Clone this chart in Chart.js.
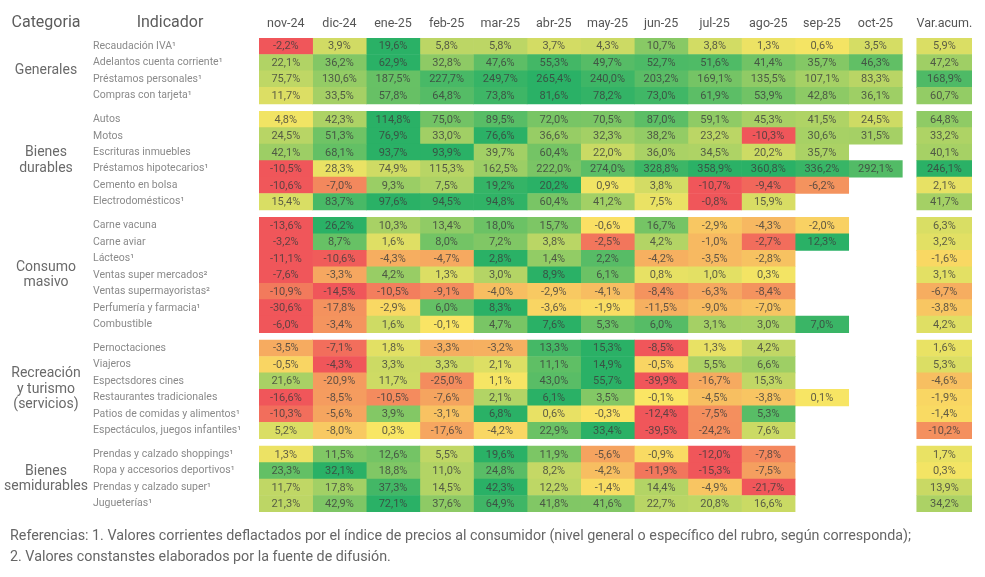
<!DOCTYPE html>
<html lang="es">

<head>
  <meta charset="UTF-8" />
  <title>Indicadores de actividad</title>
  <script src="https://cdn.jsdelivr.net/npm/chart.js@4.4.1/dist/chart.umd.min.js"></script>
  <style>
    html, body { margin: 0; padding: 0; background: #fff; }
    #wrap { position: relative; width: 985px; height: 577px; }
    #notes {
      position: absolute; left: 10px; top: 525px;
      font: 14.3px Roboto, "Liberation Sans", sans-serif;
      color: #666; line-height: 21px; white-space: nowrap;
    }
  </style>
</head>

<body>
  <div id="wrap">
    <canvas id="tabla" width="985" height="577"></canvas>
    <div id="notes">
      Referencias: 1. Valores corrientes deflactados por el índice de precios al consumidor (nivel general o específico del rubro, según corresponda);<br>
      2. Valores constanstes elaborados por la fuente de difusión.
    </div>
  </div>

  <script>
    // columnas
    const months = ["nov-24", "dic-24", "ene-25", "feb-25", "mar-25", "abr-25",
      "may-25", "jun-25", "jul-25", "ago-25", "sep-25", "oct-25"];
    const accLabel = "Var.acum.";
    const categories = ["Generales", "Bienes\ndurables", "Consumo\nmasivo",
      "Recreación\ny turismo\n(servicios)", "Bienes\nsemidurables"];

    // Generales
    const indGenerales = ["Recaudación IVA¹", "Adelantos cuenta corriente¹", "Préstamos personales¹", "Compras con tarjeta¹"];
    const valGenerales = [
      [-2.2, 3.9, 19.6, 5.8, 5.8, 3.7, 4.3, 10.7, 3.8, 1.3, 0.6, 3.5],
      [22.1, 36.2, 62.9, 32.8, 47.6, 55.3, 49.7, 52.7, 51.6, 41.4, 35.7, 46.3],
      [75.7, 130.6, 187.5, 227.7, 249.7, 265.4, 240.0, 203.2, 169.1, 135.5, 107.1, 83.3],
      [11.7, 33.5, 57.8, 64.8, 73.8, 81.6, 78.2, 73.0, 61.9, 53.9, 42.8, 36.1]
    ];
    const accGenerales = [5.9, 47.2, 168.9, 60.7];

    // Bienes durables
    const indDurables = ["Autos", "Motos", "Escrituras inmuebles", "Préstamos hipotecarios¹", "Cemento en bolsa", "Electrodomésticos¹"];
    const valDurables = [
      [4.8, 42.3, 114.8, 75.0, 89.5, 72.0, 70.5, 87.0, 59.1, 45.3, 41.5, 24.5],
      [24.5, 51.3, 76.9, 33.0, 76.6, 36.6, 32.3, 38.2, 23.2, -10.3, 30.6, 31.5],
      [42.1, 68.1, 93.7, 93.9, 39.7, 60.4, 22.0, 36.0, 34.5, 20.2, 35.7, null],
      [-10.5, 28.3, 74.9, 115.3, 162.5, 222.0, 274.0, 328.8, 358.9, 360.8, 336.2, 292.1],
      [-10.6, -7.0, 9.3, 7.5, 19.2, 20.2, 0.9, 3.8, -10.7, -9.4, -6.2, null],
      [15.4, 83.7, 97.6, 94.5, 94.8, 60.4, 41.2, 7.5, -0.8, 15.9, null, null]
    ];
    const accDurables = [64.8, 33.2, 40.1, 246.1, 2.1, 41.7];

    // Consumo masivo
    const indConsumo = ["Carne vacuna", "Carne aviar", "Lácteos¹", "Ventas super mercados²",
      "Ventas supermayoristas²", "Perfumería y farmacia¹", "Combustible"];
    const valConsumo = [
      [-13.6, 26.2, 10.3, 13.4, 18.0, 15.7, -0.6, 16.7, -2.9, -4.3, -2.0, null],
      [-3.2, 8.7, 1.6, 8.0, 7.2, 3.8, -2.5, 4.2, -1.0, -2.7, 12.3, null],
      [-11.1, -10.6, -4.3, -4.7, 2.8, 1.4, 2.2, -4.2, -3.5, -2.8, null, null],
      [-7.6, -3.3, 4.2, 1.3, 3.0, 8.9, 6.1, 0.8, 1.0, 0.3, null, null],
      [-10.9, -14.5, -10.5, -9.1, -4.0, -2.9, -4.1, -8.4, -6.3, -8.4, null, null],
      [-30.6, -17.8, -2.9, 6.0, 8.3, -3.6, -1.9, -11.5, -9.0, -7.0, null, null],
      [-6.0, -3.4, 1.6, -0.1, 4.7, 7.6, 5.3, 6.0, 3.1, 3.0, 7.0, null]
    ];
    const accConsumo = [6.3, 3.2, -1.6, 3.1, -6.7, -3.8, 4.2];

    // Recreación y turismo
    const indRecreacion = ["Pernoctaciones", "Viajeros", "Espectsdores cines", "Restaurantes tradicionales",
      "Patios de comidas y alimentos¹", "Espectáculos, juegos infantiles¹"];
    const valRecreacion = [
      [-3.5, -7.1, 1.8, -3.3, -3.2, 13.3, 15.3, -8.5, 1.3, 4.2, null, null],
      [-0.5, -4.3, 3.3, 3.3, 2.1, 11.1, 14.9, -0.5, 5.5, 6.6, null, null],
      [21.6, -20.9, 11.7, -25.0, 1.1, 43.0, 55.7, -39.9, -16.7, 15.3, null, null],
      [-16.6, -8.5, -10.5, -7.6, 2.1, 6.1, 3.5, -0.1, -4.5, -3.8, 0.1, null],
      [-10.3, -5.6, 3.9, -3.1, 6.8, 0.6, -0.3, -12.4, -7.5, 5.3, null, null],
      [5.2, -8.0, 0.3, -17.6, -4.2, 22.9, 33.4, -39.5, -24.2, 7.6, null, null]
    ];
    const accRecreacion = [1.6, 5.3, -4.6, -1.9, -1.4, -10.2];

    // Bienes semidurables
    const indSemidurables = ["Prendas y calzado shoppings¹", "Ropa y accesorios deportivos¹",
      "Prendas y calzado super¹", "Jugueterías¹"];
    const valSemidurables = [
      [1.3, 11.5, 12.6, 5.5, 19.6, 11.9, -5.6, -0.9, -12.0, -7.8, null, null],
      [23.3, 32.1, 18.8, 11.0, 24.8, 8.2, -4.2, -11.9, -15.3, -7.5, null, null],
      [11.7, 17.8, 37.3, 14.5, 42.3, 12.2, -1.4, 14.4, -4.9, -21.7, null, null],
      [21.3, 42.9, 72.1, 37.6, 64.9, 41.8, 41.6, 22.7, 20.8, 16.6, null, null]
    ];
    const accSemidurables = [1.7, 0.3, 13.9, 34.2];
  </script>

  <script>
    const FONT = 'Roboto, "Liberation Sans", sans-serif';
    Chart.defaults.font.family = FONT;

    const groups = [
      [indGenerales, valGenerales, accGenerales],
      [indDurables, valDurables, accDurables],
      [indConsumo, valConsumo, accConsumo],
      [indRecreacion, valRecreacion, accRecreacion],
      [indSemidurables, valSemidurables, accSemidurables]
    ];

    // filas en unidades de la escala y (1 = una fila, GAP = separación entre grupos)
    const GAP = 0.45;
    const rows = [];
    const groupMid = [];
    let pos = 0;
    groups.forEach((g, gi) => {
      const start = pos;
      g[0].forEach((name, i) => {
        rows.push({ name: name, y: pos + 0.5, vals: g[1][i], acc: g[2][i] });
        pos += 1;
      });
      groupMid.push({ label: categories[gi], y: (start + pos) / 2 });
      pos += GAP;
    });
    const yMax = pos - GAP;

    // columnas en unidades de la escala x
    const ACC_START = 12.27, ACC_END = 13.3;
    const colLabels = months.concat([accLabel]);
    const colCenters = months.map((m, i) => i + 0.5).concat([(ACC_START + ACC_END) / 2]);

    // colores
    const RED = [240, 86, 90], YEL = [250, 230, 100], GRN = [42, 177, 102];
    function mix(a, b, t) {
      t = Math.max(0, Math.min(1, t));
      return `rgb(${a.map((c, k) => Math.round(c + (b[k] - c) * t)).join(",")})`;
    }
    function heat(t) {
      return t < 0 ? mix(YEL, RED, -t) : mix(YEL, GRN, t);
    }
    function rowTone(v, vals) {
      const nums = vals.filter(x => x !== null);
      const mn = Math.min(...nums), mx = Math.max(...nums);
      if (v < 0) return -(v / mn);
      if (mx <= 0) return 0;
      return v / mx;
    }
    const accAll = rows.map(r => r.acc);
    const accMin = Math.min(...accAll), accMax = Math.max(...accAll);
    function accTone(v) {
      return v < 0 ? -0.6 * (v / accMin) : Math.sqrt(v / accMax);
    }

    // un dataset por columna; cada celda es una barra flotante
    const datasets = colLabels.map((label, c) => {
      const data = [];
      rows.forEach(r => {
        const v = c < months.length ? r.vals[c] : r.acc;
        if (v === null) return;
        const x = c < months.length ? [c, c + 1] : [ACC_START, ACC_END];
        const tone = c < months.length ? rowTone(v, r.vals) : accTone(v);
        data.push({ x: x, y: r.y, v: v, color: heat(tone) });
      });
      return {
        label: label,
        data: data,
        backgroundColor: ctx => ctx.raw ? ctx.raw.color : "#fff",
        borderWidth: 0,
        grouped: false,
        categoryPercentage: 1,
        barPercentage: 1
      };
    });

    function fmt(v) {
      return v.toFixed(1).replace(".", ",") + "%";
    }

    const cellText = {
      id: "cellText",
      afterDatasetsDraw(chart) {
        const ctx = chart.ctx;
        ctx.save();
        ctx.font = `11px ${FONT}`;
        ctx.textAlign = "center";
        ctx.textBaseline = "middle";
        ctx.fillStyle = "rgba(60,60,60,0.8)";
        chart.data.datasets.forEach((ds, di) => {
          chart.getDatasetMeta(di).data.forEach((el, i) => {
            ctx.fillText(fmt(ds.data[i].v), (el.x + el.base) / 2, el.y + 0.5);
          });
        });
        ctx.restore();
      }
    };

    const sideText = {
      id: "sideText",
      afterDraw(chart) {
        const ctx = chart.ctx;
        const y = chart.scales.y;
        ctx.save();
        ctx.textAlign = "center";
        ctx.textBaseline = "middle";
        ctx.fillStyle = "#5c5c5c";
        ctx.font = `16px ${FONT}`;
        ctx.fillText("Categoria", 46, 23);
        ctx.fillText("Indicador", 170, 23);
        ctx.fillStyle = "#6a6a6a";
        ctx.font = `14px ${FONT}`;
        groupMid.forEach(g => {
          const lines = g.label.split("\n");
          const cy = y.getPixelForValue(g.y);
          lines.forEach((ln, i) => {
            ctx.fillText(ln, 46, cy + (i - (lines.length - 1) / 2) * 15.5);
          });
        });
        ctx.restore();
      }
    };

    new Chart(document.getElementById("tabla").getContext("2d"), {
      type: "bar",
      data: { datasets: datasets },
      options: {
        indexAxis: "y",
        responsive: false,
        animation: false,
        layout: { padding: { left: 93, right: 13, top: 10, bottom: 65 } },
        plugins: {
          legend: { display: false },
          tooltip: { enabled: false }
        },
        scales: {
          x: {
            type: "linear",
            position: "top",
            min: 0,
            max: ACC_END,
            grid: { display: false, drawTicks: false },
            border: { display: false },
            afterBuildTicks: s => { s.ticks = colCenters.map(v => ({ value: v })); },
            afterFit: s => { s.height = 28; s.paddingLeft = 0; s.paddingRight = 0; },
            ticks: {
              autoSkip: false,
              maxRotation: 0,
              padding: 7,
              color: "#555",
              font: { size: 12.5 },
              callback: (v, i) => colLabels[i]
            }
          },
          y: {
            type: "linear",
            reverse: true,
            offset: false,
            min: 0,
            max: yMax,
            grid: { display: false, drawTicks: false, offset: false },
            border: { display: false },
            afterBuildTicks: s => { s.ticks = rows.map(r => ({ value: r.y })); },
            afterFit: s => { s.width = 166; s.paddingTop = 0; s.paddingBottom = 0; },
            ticks: {
              autoSkip: false,
              crossAlign: "far",
              padding: 0,
              color: "#8a8a8a",
              font: { size: 10.5 },
              callback: (v, i) => rows[i].name
            }
          }
        }
      },
      plugins: [cellText, sideText]
    });
  </script>
</body>

</html>
